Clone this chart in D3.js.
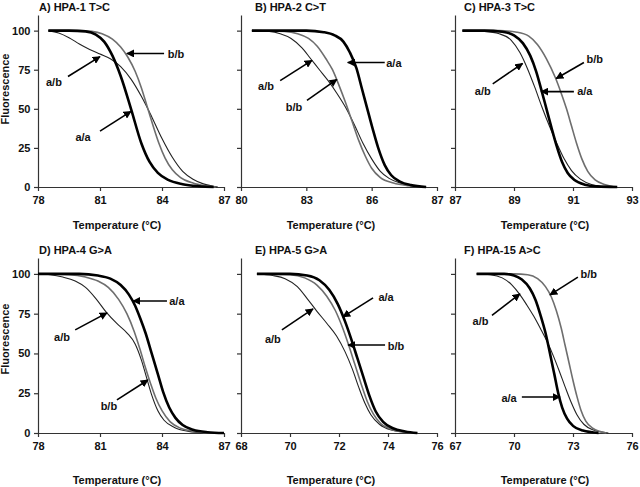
<!DOCTYPE html>
<html><head><meta charset="utf-8">
<script src="https://cdn.jsdelivr.net/npm/d3@7"></script>
<style>
body{margin:0;background:#fff;}
svg{display:block;font-family:"Liberation Sans",Arial,sans-serif;font-weight:bold;}
</style></head>
<body>
<svg id="chart" width="640" height="487"></svg>
<script>
// ---------- DATA ----------
const panelTitles = ["A) HPA-1 T>C","B) HPA-2 C>T","C) HPA-3 T>C","D) HPA-4 G>A","E) HPA-5 G>A","F) HPA-15 A>C"];
const xDomains = [[78,87],[80,89],[87,93],[78,87],[68,76],[67,76]];
const xTickValues = [[78,81,84,87],[80,83,86,89],[87,89,91,93],[78,81,84,87],[68,70,72,74,76],[67,70,73,76]];
const xTickLabels = [["78","81","84","87"],["80","83","86","87"],["87","89","91","93"],["78","81","84","87"],["68","70","72","74","76"],["67","70","73","76"]];
const yTicks = [0,25,50,75,100];
const yTickLabels = ["0","25","50","75","100"];
const xTitle = "Temperature (°C)";
const yTitle = "Fluorescence";

// genotype curves: [temperature, fluorescence]
const aaCurves = [
 [[78.5,100],[79.5,100],[80.3,99.5],[80.8,97.5],[81.2,93],[81.6,84],[82,71],[82.5,50],[83,28],[83.4,16],[83.8,9],[84.3,4.5],[85,1.8],[85.8,0.5],[86.5,0]],
 [[80.5,100],[83,100],[83.8,99],[84.3,97],[84.7,93],[85,86],[85.3,76],[85.55,63],[85.8,50],[86.05,37],[86.3,25],[86.6,14],[86.9,7.5],[87.3,3.5],[87.8,1.2],[88.5,0]],
 [[87.25,100],[88,100],[88.6,99.3],[89,97],[89.3,92],[89.55,84],[89.75,74],[89.93,62],[90.1,50],[90.27,38],[90.45,26],[90.63,16],[90.82,9],[91.05,4.5],[91.4,1.5],[91.8,0.4],[92.5,0]],
 [[78,100],[80,100],[80.9,99],[81.5,97],[82,93],[82.4,87],[82.7,80],[82.95,72],[83.2,63],[83.5,50],[83.8,37],[84.05,26],[84.35,16],[84.65,9.5],[85,5],[85.5,2],[86.2,0.5],[87,0]],
 [[68.65,100],[70,100],[70.7,99],[71.2,96],[71.6,90],[71.95,81],[72.25,70],[72.5,59],[72.75,47],[73,35],[73.25,23],[73.5,13.5],[73.8,7],[74.2,3],[74.7,1],[75.2,0]],
 [[68.1,100],[69.5,100],[70,99],[70.4,96.5],[70.8,91],[71.1,83.5],[71.35,74],[71.6,63],[71.83,50],[72.05,37],[72.25,25],[72.45,16],[72.7,9],[73,4.5],[73.5,1.5],[74.3,0]]
];
const bbCurves = [
 [[78.5,100],[80,100],[80.6,99.5],[81.1,98],[81.6,94.5],[82,89.5],[82.35,83],[82.7,74],[83,63.5],[83.27,52],[83.55,40],[83.85,28],[84.15,18.5],[84.5,11],[84.9,6],[85.5,2.5],[86.1,0.8],[86.6,0]],
 [[80.5,100],[82,99.5],[82.6,98],[83.1,95],[83.5,90],[83.9,82],[84.2,75],[84.5,65],[84.8,54],[85.1,42],[85.4,30],[85.7,20],[86,12],[86.4,6],[87,2.5],[87.7,0.8],[88.5,0]],
 [[87.25,100],[88.5,100],[89.1,99],[89.5,96.5],[89.8,91],[90.1,82],[90.4,70],[90.6,60],[90.78,50],[90.95,39],[91.12,28],[91.3,18],[91.5,10],[91.75,4.5],[92.1,1.5],[92.4,0]],
 [[78,100],[79.5,99.5],[80.3,98],[80.9,95.5],[81.4,91.5],[81.9,84],[82.3,75],[82.65,64],[82.95,52],[83.2,41],[83.45,31],[83.7,22],[84,14],[84.4,7],[84.9,3],[85.6,1],[86.5,0]],
 [[68.65,100],[70,99.5],[70.6,97.5],[71.1,93],[71.5,86],[71.85,77],[72.15,66],[72.4,55],[72.65,43],[72.9,31],[73.15,20],[73.4,12],[73.7,6],[74.1,2.5],[74.7,0.5],[75.2,0]],
 [[68.1,100],[70,100],[70.7,99.5],[71.2,97],[71.6,92],[71.9,85.5],[72.15,77],[72.4,66],[72.6,55],[72.8,44],[73,33],[73.2,23],[73.4,14.5],[73.65,7.5],[74,3],[74.7,0]]
];
const abCurves = [
 [[78.5,100],[79,98.5],[79.5,95.5],[80,91.5],[80.5,88],[81,85],[81.5,82],[82,77],[82.5,69],[83,58],[83.5,45],[84,31],[84.5,19],[85,10],[85.5,5],[86,2],[86.7,0]],
 [[80.5,100],[81.3,99.5],[81.8,98],[82.3,95],[82.8,89],[83.2,82],[83.6,75],[84,68],[84.4,60],[84.8,51],[85.2,40],[85.6,28],[86,18],[86.4,10],[86.8,5.5],[87.3,2.5],[88,0.8],[88.5,0]],
 [[87.25,100],[88,99.5],[88.5,98],[88.9,94],[89.2,86],[89.45,76],[89.7,64],[89.95,51],[90.2,39],[90.45,28],[90.7,18],[90.95,10.5],[91.25,5],[91.65,1.5],[92.2,0]],
 [[78,100],[78.6,99.5],[79.2,98],[79.8,95.5],[80.3,91.5],[80.8,84.5],[81.3,76],[81.8,69],[82.3,63],[82.7,56],[83,46],[83.25,35],[83.5,24],[83.8,14],[84.1,8],[84.6,3.5],[85.3,1],[86,0]],
 [[68.65,100],[69.3,99],[69.8,97],[70.3,92],[70.7,84.5],[71.1,76.5],[71.5,69],[71.9,61],[72.25,51],[72.55,40],[72.8,29],[73.05,19],[73.3,11.5],[73.65,5.5],[74.1,2],[74.8,0.3],[75.1,0]],
 [[68.1,100],[68.8,99.5],[69.4,97.5],[69.9,93],[70.3,87],[70.65,80.5],[71,73.5],[71.35,65.5],[71.7,57],[72,48.5],[72.3,39],[72.6,29],[72.9,19.5],[73.2,11.5],[73.55,5.5],[74,2],[74.8,0]]
];

// annotations: label, text position [temp,value], arrow from -> to [temp,value]
const annotations = [
 [{t:"b/b",at:[84.68,84.7],from:[84.1,85.4],to:[82.3,85.4]},
  {t:"a/b",at:[78.77,66.9],from:[79.45,70.7],to:[81.0,83.4]},
  {t:"a/a",at:[80.18,31.8],from:[81.0,35.7],to:[82.5,48.4]}],
 [{t:"a/a",at:[87.02,79],from:[86.6,79.6],to:[84.9,79.6]},
  {t:"a/b",at:[81.15,64.3],from:[81.8,68],to:[83.26,81]},
  {t:"b/b",at:[82.43,51],from:[83.03,55.4],to:[84.4,68.8]}],
 [{t:"b/b",at:[91.74,82],from:[91.37,79.6],to:[90.43,69.4]},
  {t:"a/b",at:[87.94,61],from:[88.28,66],to:[89.29,79]},
  {t:"a/a",at:[91.4,61],from:[91.03,61],to:[89.92,61]}],
 [{t:"a/a",at:[84.72,83],from:[84.24,83],to:[82.6,83]},
  {t:"a/b",at:[79.16,60],from:[79.8,64.8],to:[81.34,75.5]},
  {t:"b/b",at:[81.43,17],from:[81.82,20.8],to:[83.32,33.3]}],
 [{t:"a/a",at:[73.92,85.5],from:[73.39,84.9],to:[72.16,73]},
  {t:"b/b",at:[74.33,54.7],from:[73.88,55.3],to:[72.37,55.3]},
  {t:"a/b",at:[69.3,59],from:[69.67,64.8],to:[70.94,78]}],
 [{t:"b/b",at:[73.8,100],from:[73.25,98],to:[71.83,86.8]},
  {t:"a/b",at:[68.3,70],from:[68.88,74],to:[70.3,87.4]},
  {t:"a/a",at:[69.75,22],from:[70.4,22.6],to:[72.34,22.6]}]
];

// ---------- LAYOUT ----------
const cols = [{x0:38,x1:224,titleX:39,labelX:117},{x0:241,x1:437,titleX:255,labelX:331},{x0:455,x1:632,titleX:464,labelX:545}];
const rows = [{yTop:15,yBot:187,titleY:11,labelY:229,fluorY:89},{yTop:258,yBot:433,titleY:254,labelY:484,fluorY:339}];
const axisColor = "#333";

const svg = d3.select("#chart");
const defs = svg.append("defs");
defs.append("marker").attr("id","ah").attr("viewBox","0 0 10 10").attr("refX",9).attr("refY",5)
  .attr("markerWidth",5).attr("markerHeight",5).attr("markerUnits","strokeWidth").attr("orient","auto")
  .append("path").attr("d","M0,0 L10,5 L0,10 z").attr("fill","#000");

panelTitles.forEach((title,i)=>{
  const c = cols[i%3], r = rows[Math.floor(i/3)];
  const x = d3.scaleLinear().domain(xDomains[i]).range([c.x0,c.x1]);
  const y = d3.scaleLinear().domain([0,110]).range([r.yBot,r.yTop]);
  const g = svg.append("g");

  const xa = g.append("g").attr("transform",`translate(0,${r.yBot})`)
    .call(d3.axisBottom(x).tickValues(xTickValues[i]).tickFormat((d,k)=>xTickLabels[i][k]).tickSize(4).tickSizeOuter(0));
  const ya = g.append("g").attr("transform",`translate(${c.x0},0)`)
    .call(d3.axisLeft(y).tickValues(yTicks).tickFormat((d,k)=> i%3===0 ? yTickLabels[k] : "").tickSize(4).tickSizeOuter(0));
  [xa,ya].forEach(a=>{
    a.select(".domain").attr("stroke",axisColor).attr("stroke-width",1.2);
    a.selectAll(".tick line").attr("stroke",axisColor).attr("stroke-width",1.2);
    a.selectAll("text").attr("font-size",11).attr("font-weight","bold").attr("fill","#111")
      .attr("font-family","'Liberation Sans',Arial,sans-serif");
  });
  xa.selectAll("text").attr("dy","0.9em");
  ya.selectAll("text").attr("dx","-0.05em");

  const line = d3.line().x(d=>x(d[0])).y(d=>y(d[1])).curve(d3.curveMonotoneX);
  g.append("path").datum(abCurves[i]).attr("d",line).attr("fill","none").attr("stroke","#222").attr("stroke-width",1.1);
  g.append("path").datum(bbCurves[i]).attr("d",line).attr("fill","none").attr("stroke","#6e6e6e").attr("stroke-width",1.6);
  g.append("path").datum(aaCurves[i]).attr("d",line).attr("fill","none").attr("stroke","#000").attr("stroke-width",2.6);

  annotations[i].forEach(a=>{
    g.append("line").attr("x1",x(a.from[0])).attr("y1",y(a.from[1]))
      .attr("x2",x(a.to[0])).attr("y2",y(a.to[1]))
      .attr("stroke","#000").attr("stroke-width",1.6).attr("marker-end","url(#ah)");
    g.append("text").attr("x",x(a.at[0])).attr("y",y(a.at[1])).attr("dy","0.35em")
      .attr("text-anchor","middle").attr("font-size",11).attr("fill","#111").text(a.t);
  });

  g.append("text").attr("x",c.titleX).attr("y",r.titleY).attr("font-size",11).attr("fill","#111").text(title);
  g.append("text").attr("x",c.labelX).attr("y",r.labelY).attr("text-anchor","middle").attr("font-size",11).attr("fill","#111").text(xTitle);
  if(i%3===0){
    g.append("text").attr("transform",`translate(9,${r.fluorY}) rotate(-90)`).attr("text-anchor","middle")
      .attr("font-size",11).attr("fill","#111").text(yTitle);
  }
});
</script>
</body></html>
